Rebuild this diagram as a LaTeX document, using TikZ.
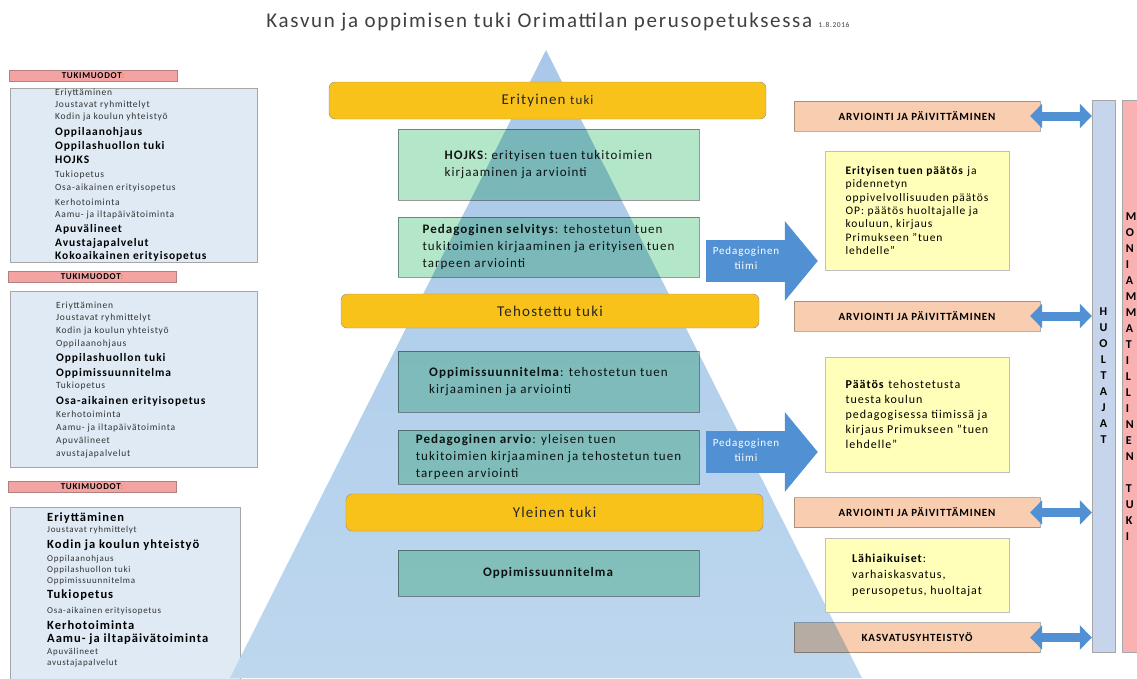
\documentclass[tikz,border=0pt]{standalone}
\usepackage{fontspec}
\setmainfont{Carlito}[LetterSpace=8]
\usetikzlibrary{arrows.meta,calc}

\definecolor{pyrblue}{HTML}{BDD7EE}
\definecolor{pyrtop}{HTML}{A9C8E9}
\definecolor{tukiorange}{HTML}{F9C21B}
\definecolor{tasogreen}{HTML}{B4E6CA}
\definecolor{paatosyellow}{HTML}{FFFFB9}
\definecolor{arvpeach}{HTML}{F8CDB0}
\definecolor{listblue}{HTML}{DFEAF5}
\definecolor{listpink}{HTML}{F4A3A3}
\definecolor{pedblue}{HTML}{5090D3}
\definecolor{huoltblue}{HTML}{C6D4EC}
\definecolor{monipink}{HTML}{FAB1B1}
\definecolor{titlegray}{HTML}{404040}

% lihavoidut rivit tukimuotolistoissa
\newcommand{\lb}[1]{{\bfseries\color{black}\fontsize{11.5}{13}\selectfont #1}}
\newcommand{\lbb}[1]{{\bfseries\color{black}\fontsize{12.5}{14}\selectfont #1}}

\tikzset{
  tukibar/.style={draw=black!45, fill=tukiorange, rounded corners=6pt,
    minimum width=437pt, minimum height=37pt, text=black!85,
    font=\fontsize{15}{17}\selectfont},
  tasobox/.style={draw=black!40, fill=tasogreen, blend mode=multiply,
    minimum width=301pt, align=left, text=black!90,
    font=\fontsize{13}{17}\selectfont},
  paatosbox/.style={draw=black!25, fill=paatosyellow, minimum width=184pt,
    align=left, font=\fontsize{11.5}{13.3}\selectfont},
  arvbox/.style={draw=black!30, fill=arvpeach, blend mode=multiply,
    minimum width=246pt, minimum height=30pt,
    font=\bfseries\fontsize{11}{12}\selectfont},
  listbox/.style={draw=black!35, fill=listblue, anchor=north west},
  listlabel/.style={draw=red!40!black!50, fill=listpink, minimum width=168pt,
    minimum height=11pt, inner sep=0pt,
    font=\bfseries\fontsize{9}{10}\selectfont},
  listitem/.style={anchor=west, inner sep=0pt, text=black!80,
    font=\fontsize{9.5}{11}\selectfont},
  pedarrow/.style={pedblue, line width=42pt, shorten >=7pt,
    -{Triangle[width=78pt,length=33pt]}},
  pedtext/.style={text=white, align=center, font=\fontsize{11}{15}\selectfont},
  dblarrow/.style={pedblue, line width=9pt,
    {Triangle[width=24pt,length=12pt]}-{Triangle[width=24pt,length=12pt]}},
  column/.style={draw=black!35, minimum height=552pt},
  coltext/.style={font=\bfseries\fontsize{12}{16}\selectfont}
}

\begin{document}
\begin{tikzpicture}[x=1pt,y=-1pt]
\useasboundingbox (0,0) rectangle (1137,678);

% otsikko
\node[text=titlegray, font=\fontsize{21}{23}\selectfont] (otsikko) at (558,22)
  {Kasvun ja oppimisen tuki Orimattilan perusopetuksessa {\fontsize{7.5}{8}\selectfont 1.8.2016}};

% tukimuodot vasemmalla
\node[listbox, minimum width=247pt, minimum height=174pt] (lista1) at (10,88) {};
\node[listbox, minimum width=247pt, minimum height=176pt] (lista2) at (10,291) {};
\node[listbox, minimum width=230pt, minimum height=180pt] (lista3) at (10,507) {};
\node[listlabel] (otsake1) at (93,76) {TUKIMUODOT\textcolor{orange}{:}};
\node[listlabel] (otsake2) at (92,277) {TUKIMUODOT\textcolor{orange}{:}};
\node[listlabel] (otsake3) at (92,487) {TUKIMUODOT\textcolor{orange}{:}};

\foreach \yy/\txt [count=\i] in {93/Eriyttäminen, 105/Joustavat ryhmittelyt,
    117/Kodin ja koulun yhteistyö, 132/\lb{Oppilaanohjaus},
    146/\lb{Oppilashuollon tuki}, 160/\lb{HOJKS}, 175/Tukiopetus,
    188/Osa-aikainen erityisopetus, 202/Kerhotoiminta,
    215/Aamu- ja iltapäivätoiminta, 229/\lb{Apuvälineet},
    243/\lb{Avustajapalvelut}, 256/\lb{Kokoaikainen erityisopetus}}
  \node[listitem] (ta-\i) at (55,\yy) {\txt};

\foreach \yy/\txt [count=\i] in {306/Eriyttäminen, 318/Joustavat ryhmittelyt,
    331/Kodin ja koulun yhteistyö, 344/Oppilaanohjaus,
    358/\lb{Oppilashuollon tuki}, 373/\lb{Oppimissuunnitelma}, 386/Tukiopetus,
    401/\lb{Osa-aikainen erityisopetus}, 414/Kerhotoiminta,
    428/Aamu- ja iltapäivätoiminta, 441/Apuvälineet, 454/avustajapalvelut}
  \node[listitem] (tb-\i) at (56,\yy) {\txt};

\foreach \yy/\txt [count=\i] in {518/\lbb{Eriyttäminen}, 530/Joustavat ryhmittelyt,
    545/\lbb{Kodin ja koulun yhteistyö}, 559/Oppilaanohjaus,
    570/Oppilashuollon tuki, 581/Oppimissuunnitelma, 595/\lbb{Tukiopetus},
    611/Osa-aikainen erityisopetus, 625/\lbb{Kerhotoiminta},
    639/\lbb{Aamu- ja iltapäivätoiminta}, 652/Apuvälineet, 663/avustajapalvelut}
  \node[listitem, font=\fontsize{9}{10}\selectfont] (tc-\i) at (47,\yy) {\txt};

% pyramidi
\shade[top color=pyrtop, bottom color=pyrblue] (546,50) -- (862,678) -- (230,678) -- cycle;

% tuen tasot
\node[tukibar] (erityinen) at (547.5,100.5) {Erityinen {\fontsize{13}{15}\selectfont tuki}};
\node[tukibar, minimum width=418pt, minimum height=34pt] (tehostettu) at (550,311) {Tehostettu tuki};
\node[tukibar, minimum width=417pt] (yleinen) at (554.5,512.5) {Yleinen tuki};

\node[tasobox, minimum height=71pt] (hojks) at (548.5,164.5)
  {\textbf{HOJKS}: erityisen tuen tukitoimien\\kirjaaminen ja arviointi};
\node[tasobox, minimum height=60pt] (selvitys) at (548.5,247)
  {\textbf{Pedagoginen selvitys}: tehostetun tuen\\tukitoimien kirjaaminen ja erityisen tuen\\tarpeen arviointi};
\node[tasobox, minimum height=61pt] (oppteho) at (548.5,381.5)
  {\textbf{Oppimissuunnitelma}: tehostetun tuen\\kirjaaminen ja arviointi};
\node[tasobox, minimum height=54pt] (arvio) at (548.5,457)
  {\textbf{Pedagoginen arvio}: yleisen tuen\\tukitoimien kirjaaminen ja tehostetun tuen\\tarpeen arviointi};
\node[tasobox, minimum height=46pt] (oppylei) at (548.5,573)
  {\textbf{Oppimissuunnitelma}};

% paatokset
\node[paatosbox, minimum height=119pt] (paatos1) at (917,210.5)
  {\textbf{Erityisen tuen päätös} ja\\pidennetyn\\oppivelvollisuuden päätös\\OP: päätös huoltajalle ja\\kouluun, kirjaus\\Primukseen "tuen\\lehdelle"};
\node[paatosbox, minimum height=115pt, font=\fontsize{12}{15}\selectfont] (paatos2) at (917,414.5)
  {\textbf{Päätös} tehostetusta\\tuesta koulun\\pedagogisessa tiimissä ja\\kirjaus Primukseen "tuen\\lehdelle"};
\node[paatosbox, minimum height=74pt, font=\fontsize{12}{16}\selectfont] (paatos3) at (917,575)
  {\textbf{Lähiaikuiset}:\\varhaiskasvatus,\\perusopetus, huoltajat};

% pedagoginen tiimi -nuolet
\coordinate (ped1) at (706,261);
\coordinate (ped2) at (706,452);
\draw[pedarrow] (ped1) -- (ped1 -| paatos1.west);
\draw[pedarrow] (ped2) -- (ped2 -| paatos2.west);
\node[pedtext] (tiimi1) at ($(ped1)+(40,-3)$) {Pedagoginen\\tiimi};
\node[pedtext] (tiimi2) at ($(ped2)+(40,-2)$) {Pedagoginen\\tiimi};

% arviointi
\node[arvbox] (arv1) at (917,116) {ARVIOINTI JA PÄIVITTÄMINEN};
\node[arvbox] (arv2) at (917,316) {ARVIOINTI JA PÄIVITTÄMINEN};
\node[arvbox] (arv3) at (917,512.5) {ARVIOINTI JA PÄIVITTÄMINEN};
\node[arvbox] (kasvatus) at (917,637.5) {KASVATUSYHTEISTYÖ};

% sarakkeet oikealla
\node[column, fill=huoltblue, minimum width=23pt] (huoltajat) at (1103.5,376) {};
\node[column, fill=monipink, minimum width=38pt] (moni) at (1141,376) {};
\node[coltext, align=center] (huoltteksti) at (huoltajat.center) {H\\U\\O\\L\\T\\A\\J\\A\\T};
\node[coltext, align=left] (moniteksti) at (1131,377)
  {M\\O\\N\\I\\A\\M\\M\\A\\T\\I\\L\\L\\I\\N\\E\\N\\[16pt]T\\U\\K\\I};

\foreach \b in {arv1,arv2,arv3,kasvatus}
  \draw[dblarrow] ($(\b.east)+(-10,0)$) -- (\b -| huoltajat.west);
\end{tikzpicture}
\end{document}
